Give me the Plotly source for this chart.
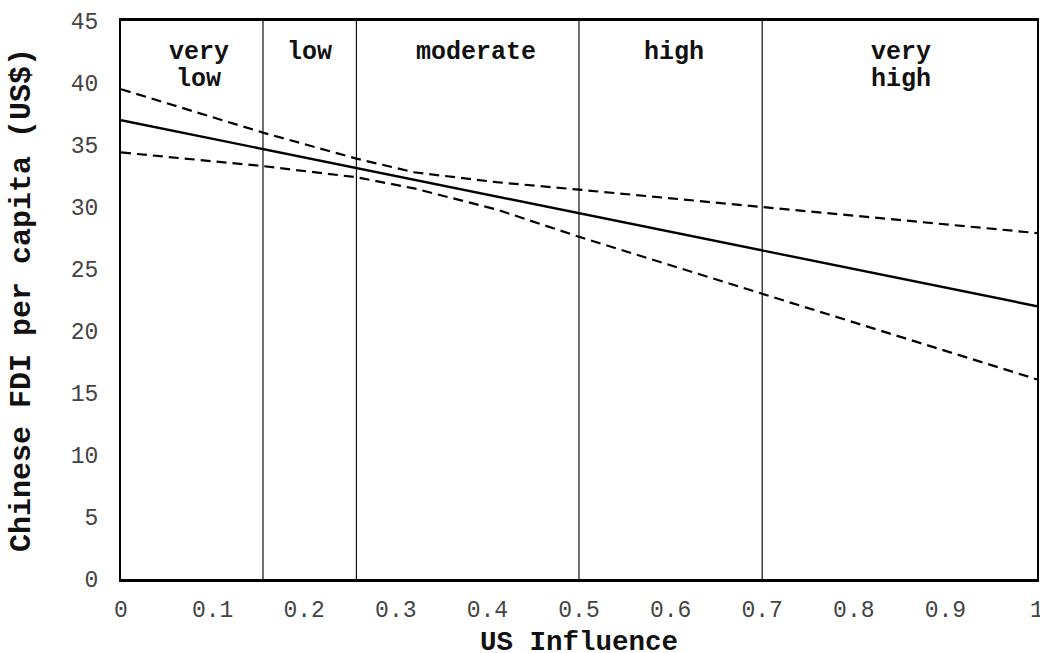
import plotly.graph_objects as go

# Data
x_fit = [0.0, 1.0]
y_fit = [37.0, 22.0]
x_band = [0.0, 0.155, 0.257, 0.32, 0.41, 0.5, 0.7, 1.0]
upper = [39.5, 36.0, 33.9, 32.8, 32.0, 31.4, 30.0, 27.9]
lower = [34.4, 33.3, 32.4, 31.5, 29.8, 27.6, 23.0, 16.1]
boundaries = [0.155, 0.257, 0.5, 0.7]
cat_labels = [["very", "low"], ["low"], ["moderate"], ["high"], ["very", "high"]]
cat_pos = [0.085, 0.206, 0.388, 0.604, 0.851]
x_ticks = [0, 0.1, 0.2, 0.3, 0.4, 0.5, 0.6, 0.7, 0.8, 0.9, 1]
y_ticks = [0, 5, 10, 15, 20, 25, 30, 35, 40, 45]
x_title = "US Influence"
y_title = "Chinese FDI per capita (US$)"

MONO = "Liberation Mono, Courier New, monospace"
L, R, T, B = 121, 3, 21, 74
W, H = 1040, 653
plot_h = H - T - B
plot_w = W - L - R

fig = go.Figure()
for b in boundaries:
    fig.add_trace(go.Scatter(x=[b, b], y=[0, 45], mode="lines",
                             line=dict(color="#111", width=1.2),
                             showlegend=False, hoverinfo="skip"))
fig.add_trace(go.Scatter(x=x_band, y=upper, mode="lines",
                         line=dict(color="black", width=2.2, dash="10px,6px"),
                         showlegend=False))
fig.add_trace(go.Scatter(x=x_band, y=lower, mode="lines",
                         line=dict(color="black", width=2.2, dash="10px,6px"),
                         showlegend=False))
fig.add_trace(go.Scatter(x=x_fit, y=y_fit, mode="lines",
                         line=dict(color="black", width=2.4),
                         showlegend=False))

for lines, p in zip(cat_labels, cat_pos):
    for i, ln in enumerate(lines):
        fig.add_annotation(x=p, y=1, xref="x", yref="paper", text=ln,
                           showarrow=False, yanchor="middle",
                           yshift=-31 - 27 * i,
                           font=dict(family=MONO, size=25, color="#111", weight="bold"))

fig.add_annotation(x=0.5, y=-(642 - (H - B)) / plot_h, xref="paper", yref="paper",
                   text=x_title, showarrow=False, yanchor="middle", xanchor="center",
                   font=dict(family=MONO, size=27.5, color="#111", weight="bold"))
fig.add_annotation(x=(22 - L) / plot_w, y=0.5, xref="paper", yref="paper",
                   text=y_title, showarrow=False, textangle=-90,
                   xanchor="center", yanchor="middle",
                   font=dict(family=MONO, size=30, color="#111", weight="bold"))

fig.update_layout(
    width=W, height=H,
    margin=dict(l=L, r=R, t=T, b=B),
    plot_bgcolor="white", paper_bgcolor="white",
)
fig.update_xaxes(
    range=[0, 1], tickvals=x_ticks, ticktext=[f"{v:g}" for v in x_ticks],
    showgrid=False, zeroline=False, showline=True, linecolor="black",
    linewidth=2.5, mirror=True, ticks="", ticklabelstandoff=8, automargin=False,
    ticklabeloverflow="allow",
    tickfont=dict(family=MONO, size=23, color="#444"),
)
fig.update_yaxes(
    range=[0, 45], tickvals=y_ticks,
    showgrid=False, zeroline=False, showline=True, linecolor="black",
    linewidth=2, mirror=True, ticks="", ticklabelstandoff=16, automargin=False,
    ticklabeloverflow="allow",
    tickfont=dict(family=MONO, size=23, color="#444"),
)

fig.write_html("out.html", config={"displayModeBar": False},
               post_script="document.body.style.margin='0';document.body.style.overflow='hidden';")
